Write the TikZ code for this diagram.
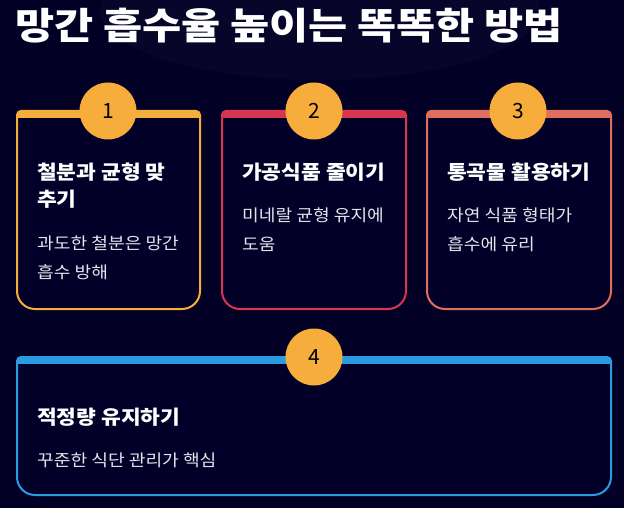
\documentclass[tikz,border=0pt]{standalone}
\usepackage{fontspec}
\setmainfont{Noto Sans CJK KR}
\definecolor{bg}{HTML}{030026}
\definecolor{cardbg}{HTML}{020028}
\definecolor{cA}{HTML}{F5AE3C}
\definecolor{cB}{HTML}{D8354F}
\definecolor{cC}{HTML}{E06E5C}
\definecolor{cD}{HTML}{2A9BE0}
\definecolor{circ}{HTML}{F6AD3B}
\definecolor{desc}{HTML}{E4E4EC}
\tikzset{
 x=1pt,y=-1pt,
 numc/.style={circle,fill=circ,minimum size=57pt,inner sep=0pt,font=\fontsize{21}{21}\selectfont,text=black},
 ttl/.style={anchor=base west,text=white,font=\fontsize{19.5}{19}\selectfont\bfseries,inner sep=0pt,xscale=1.1,transform shape},
 dsc/.style={anchor=base west,text=desc,font=\fontsize{16.5}{16}\selectfont,inner sep=0pt,xscale=1.1,transform shape},
}
\newcommand\cardpath[4]{(#1,#3+50) [rounded corners=4pt] -- (#1,#3) -- (#2,#3) -- (#2,#3+50) [rounded corners=18pt] -- (#2,#4) -- (#1,#4) -- cycle}
\newcommand\mycard[5]{%
 \fill[cardbg] \cardpath{#1}{#2}{#3}{#4};
 \begin{scope}\clip \cardpath{#1}{#2}{#3}{#4};
 \fill[#5] (#1-2,#3-2) rectangle (#2+2,#3+7);
 \end{scope}
 \draw[#5,line width=2pt] \cardpath{#1}{#2}{#3}{#4};}
\begin{document}
\begin{tikzpicture}
\useasboundingbox (0,0) rectangle (624,508);
\clip (0,0) rectangle (624,508);
\fill[bg] (0,0) rectangle (624,508);
\fill[white,opacity=0.018] (320,10) ellipse (220 and 70);
\node[anchor=base west,text=white,inner sep=0pt,font=\fontsize{37}{37}\selectfont\bfseries,xscale=1.15,transform shape] (title) at (15,40) {망간 흡수율 높이는 똑똑한 방법};
\mycard{17}{200}{111}{309}{cA}
\mycard{222}{406}{111}{309}{cB}
\mycard{427}{611}{111}{309}{cC}
\mycard{17}{611}{357}{495}{cD}
\node[numc] (n1) at (108,111) {1};
\node[numc] (n2) at (314,111) {2};
\node[numc] (n3) at (518,111) {3};
\node[numc] (n4) at (314,357) {4};
\node[ttl] (t1a) at (37,179) {철분과 균형 맞};
\node[ttl] (t1b) at (37,207) {추기};
\node[dsc] (d1a) at (37,249) {과도한 철분은 망간};
\node[dsc] (d1b) at (37,278) {흡수 방해};
\node[ttl] (t2) at (242,179) {가공식품 줄이기};
\node[dsc] (d2a) at (242,222) {미네랄 균형 유지에};
\node[dsc] (d2b) at (242,250) {도움};
\node[ttl] (t3) at (447,179) {통곡물 활용하기};
\node[dsc] (d3a) at (447,222) {자연 식품 형태가};
\node[dsc] (d3b) at (447,250) {흡수에 유리};
\node[ttl] (t4) at (37,424) {적정량 유지하기};
\node[dsc] (d4) at (37,466) {꾸준한 식단 관리가 핵심};
\end{tikzpicture}
\end{document}
